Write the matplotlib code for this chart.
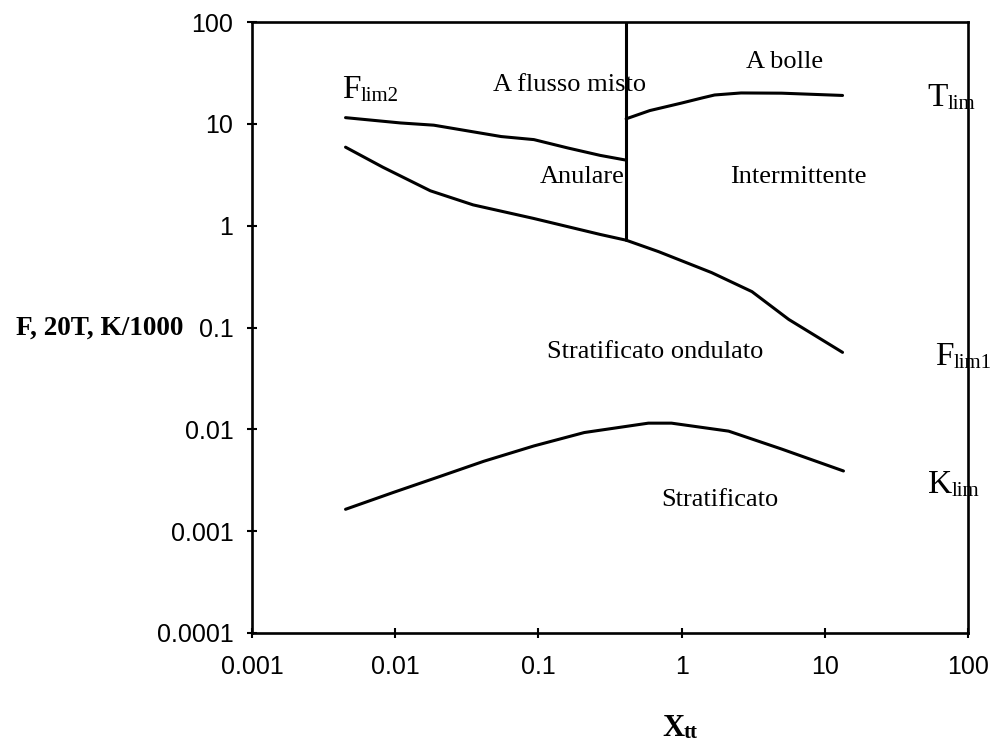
import matplotlib
matplotlib.use("Agg")
import matplotlib.pyplot as plt

# axis ticks
x_ticks = [0.001, 0.01, 0.1, 1, 10, 100]
x_tick_labels = ["0.001", "0.01", "0.1", "1", "10", "100"]
y_ticks = [0.0001, 0.001, 0.01, 0.1, 1, 10, 100]
y_tick_labels = ["0.0001", "0.001", "0.01", "0.1", "1", "10", "100"]

# F_lim2 : annular / mixed boundary
flim2_x = [0.0045, 0.0109, 0.0186, 0.055, 0.093, 0.16, 0.27, 0.41]
flim2_y = [11.5, 10.2, 9.7, 7.5, 7.0, 5.8, 4.9, 4.4]

# F_lim1 : stratified wavy boundary
flim1_x = [0.0045, 0.0082, 0.0176, 0.035, 0.092, 0.27, 0.41, 0.69, 1.62, 3.1, 5.6, 13.3]
flim1_y = [5.9, 3.75, 2.2, 1.6, 1.18, 0.82, 0.72, 0.556, 0.346, 0.225, 0.12, 0.057]

# T_lim : bubble / intermittent boundary
tlim_x = [0.41, 0.6, 1.0, 1.4, 1.7, 2.6, 5.0, 13.3]
tlim_y = [11.2, 13.5, 16.0, 18.0, 19.2, 20.1, 20.0, 19.0]

# vertical boundary (annular / intermittent)
vert_x = [0.41, 0.41]
vert_y = [0.72, 100]

# K_lim : stratified boundary
klim_x = [0.0045, 0.0097, 0.0207, 0.0416, 0.093, 0.209, 0.586, 0.85, 2.13, 5.0, 13.5]
klim_y = [0.00164, 0.0024, 0.00346, 0.00486, 0.00687, 0.0093, 0.0115, 0.0115, 0.0096, 0.0064, 0.0039]

plt.rcParams["mathtext.fontset"] = "custom"
plt.rcParams["mathtext.rm"] = "Liberation Serif"
plt.rcParams["mathtext.bf"] = "Liberation Serif:bold"

W, H = 994, 744
fig = plt.figure(figsize=(W / 100, H / 100), dpi=100)
ax = fig.add_axes([252 / W, 1 - 633 / H, (968 - 252) / W, (633 - 22) / H])

for xs, ys in [(flim2_x, flim2_y), (flim1_x, flim1_y), (tlim_x, tlim_y),
               (vert_x, vert_y), (klim_x, klim_y)]:
    ax.plot(xs, ys, color="black", lw=2.2, solid_capstyle="round")

ax.set_xscale("log")
ax.set_yscale("log")
ax.set_xlim(0.001, 100)
ax.set_ylim(0.0001, 100)
ax.set_xticks(x_ticks)
ax.set_xticklabels(x_tick_labels)
ax.set_yticks(y_ticks)
ax.set_yticklabels(y_tick_labels)
ax.minorticks_off()
ax.tick_params(direction="inout", length=7, width=1.5, labelsize=18,
               colors="black")
ax.tick_params(axis="x", pad=12)
ax.tick_params(axis="y", pad=10)
for lab in ax.get_xticklabels() + ax.get_yticklabels():
    lab.set_family("Liberation Sans")
for sp in ax.spines.values():
    sp.set_linewidth(1.9)


def px(x, y):
    return x / W, 1 - y / H


serif = "Liberation Serif"
region = dict(fontsize=19, family=serif, ha="center", va="center")
for txt, (x, y) in [("A flusso misto", (570, 85)), ("A bolle", (785, 62)),
                    ("Anulare", (582, 177)), ("Intermittente", (798, 177)),
                    ("Stratificato ondulato", (655, 352)),
                    ("Stratificato", (720, 500))]:
    fig.text(*px(x, y), txt, **region)

renderer = fig.canvas.get_renderer()


def sub_label(x, base, main, sub, size=24, sub_size=15, drop=3, weight="normal"):
    # main letter, then a smaller subscript right after it
    t = fig.text(*px(x, base), main, fontsize=size, family=serif,
                 weight=weight, ha="left", va="baseline")
    bb = t.get_window_extent(renderer)
    fig.text(bb.x1 / W, 1 - (base + drop) / H, sub, fontsize=sub_size,
             family=serif, weight=weight, ha="left", va="baseline")


sub_label(342, 98, "F", "lim2")
sub_label(927, 106, "T", "lim")
sub_label(935, 365, "F", "lim1")
sub_label(928, 493, "K", "lim")
sub_label(662, 736, "X", "tt", size=22, sub_size=15, drop=2, weight="bold")

fig.text(*px(183, 328), "F, 20T, K/1000", fontsize=19.6, family=serif,
         weight="bold", ha="right", va="center")

fig.savefig("out.png", dpi=100)
